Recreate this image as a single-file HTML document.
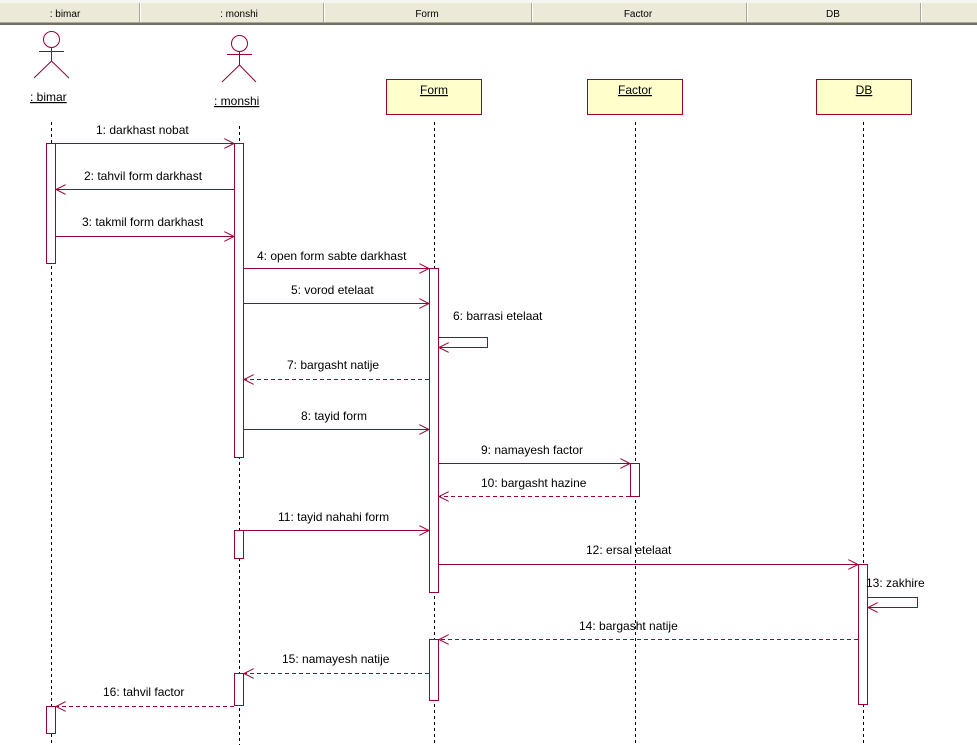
<!DOCTYPE html>
<html><head><meta charset="utf-8"><style>
html,body{margin:0;padding:0;background:#fff;width:977px;height:745px;overflow:hidden}
svg text{font-family:"Liberation Sans","DejaVu Sans",sans-serif;font-size:12px;fill:#000}
</style></head><body>
<svg width="977" height="745" xmlns="http://www.w3.org/2000/svg">
<defs>
<marker id="a" markerWidth="12" markerHeight="10" refX="10" refY="5" orient="auto" markerUnits="userSpaceOnUse">
<path d="M0,0 L10,5 L0,10" fill="none" stroke="#990033" stroke-width="1"/></marker>
</defs>
<rect x="0" y="0" width="977" height="3" fill="#f5f4ee"/>
<rect x="0" y="3" width="977" height="19" fill="#ece9d8"/>
<rect x="0" y="22" width="977" height="1" fill="#aca899"/>
<rect x="0" y="23" width="977" height="2" fill="#716f64"/>
<g fill="#aca899">
<rect x="139" y="3" width="1" height="19"/><rect x="323" y="3" width="1" height="19"/>
<rect x="531" y="3" width="1" height="19"/><rect x="746" y="3" width="1" height="19"/><rect x="920" y="3" width="1" height="19"/>
</g>
<g fill="#fff"><rect x="140" y="3" width="1" height="19"/><rect x="324" y="3" width="1" height="19"/><rect x="532" y="3" width="1" height="19"/><rect x="747" y="3" width="1" height="19"/><rect x="921" y="3" width="1" height="19"/></g>
<g text-anchor="middle">
<text x="65" y="17" style="font-size:10px">: bimar</text>
<text x="239" y="17" style="font-size:10px">: monshi</text>
<text x="427" y="17" style="font-size:10px">Form</text>
<text x="638" y="17" style="font-size:10px">Factor</text>
<text x="833" y="17" style="font-size:10px">DB</text>
</g>
<g stroke="#000" stroke-dasharray="3,3" stroke-width="1">
<line x1="51.5" y1="122" x2="51.5" y2="745"/>
<line x1="239.5" y1="126" x2="239.5" y2="745"/>
<line x1="434.5" y1="122" x2="434.5" y2="745"/>
<line x1="635.5" y1="122" x2="635.5" y2="745"/>
<line x1="863.5" y1="122" x2="863.5" y2="745"/>
</g>
<g stroke="#990033" fill="none" stroke-width="1">
<circle cx="51.5" cy="39.5" r="8"/><line x1="39" y1="51.5" x2="64" y2="51.5"/><line x1="51.5" y1="47" x2="51.5" y2="61"/>
<line x1="51.5" y1="61" x2="34" y2="78"/><line x1="51.5" y1="61" x2="69" y2="78"/>
<circle cx="239.5" cy="43.5" r="8"/><line x1="227" y1="54.5" x2="252" y2="54.5"/><line x1="239.5" y1="51" x2="239.5" y2="65"/>
<line x1="239.5" y1="65" x2="222" y2="82"/><line x1="239.5" y1="65" x2="256" y2="82"/>
</g>
<text x="30" y="101" text-decoration="underline"> : bimar</text>
<text x="214" y="105" text-decoration="underline"> : monshi</text>
<g fill="#ffffcc" stroke="#990033">
<rect x="386.5" y="79.5" width="95" height="35"/>
<rect x="587.5" y="79.5" width="95" height="35"/>
<rect x="816.5" y="79.5" width="95" height="35"/>
</g>
<g text-anchor="middle" text-decoration="underline">
<text x="434" y="94">Form</text><text x="635" y="94">Factor</text><text x="864" y="94">DB</text>
</g>
<g fill="#fff" stroke="#990033">
<rect x="46.5" y="143.5" width="9" height="120"/>
<rect x="46.5" y="706.5" width="9" height="27"/>
<rect x="234.5" y="143.5" width="9" height="314"/>
<rect x="234.5" y="530.5" width="9" height="28"/>
<rect x="234.5" y="673.5" width="9" height="32"/>
<rect x="429.5" y="268.5" width="9" height="324"/>
<rect x="429.5" y="639.5" width="9" height="61"/>
<rect x="630.5" y="463.5" width="9" height="33"/>
<rect x="858.5" y="564.5" width="9" height="140"/>
</g>
<g stroke="#990033" fill="none" stroke-width="1" marker-end="url(#a)">
<line x1="56" y1="143.5" x2="234" y2="143.5"/>
<line x1="234" y1="189.5" x2="56" y2="189.5"/>
<line x1="56" y1="236.5" x2="234" y2="236.5"/>
<line x1="244" y1="268.5" x2="429" y2="268.5"/>
<line x1="244" y1="303.5" x2="429" y2="303.5"/>
<polyline points="439,337.5 487.5,337.5 487.5,347.5 439,347.5"/>
<line x1="429" y1="379.5" x2="244" y2="379.5" stroke-dasharray="4,3"/>
<line x1="244" y1="429.5" x2="429" y2="429.5"/>
<line x1="439" y1="463.5" x2="630" y2="463.5"/>
<line x1="630" y1="496.5" x2="439" y2="496.5" stroke-dasharray="4,3"/>
<line x1="244" y1="530.5" x2="429" y2="530.5"/>
<line x1="439" y1="564.5" x2="858" y2="564.5"/>
<polyline points="868,597.5 917.5,597.5 917.5,607.5 868,607.5"/>
<line x1="858" y1="639.5" x2="439" y2="639.5" stroke-dasharray="4,3"/>
<line x1="429" y1="673.5" x2="244" y2="673.5" stroke-dasharray="4,3"/>
<line x1="234" y1="706.5" x2="56" y2="706.5" stroke-dasharray="4,3"/>
</g>
<text x="96" y="134">1: darkhast nobat</text>
<text x="84" y="180">2: tahvil form darkhast</text>
<text x="82" y="226">3: takmil form darkhast</text>
<text x="257" y="260">4: open form sabte darkhast</text>
<text x="291" y="294">5: vorod etelaat</text>
<text x="453" y="320">6: barrasi etelaat</text>
<text x="287" y="369">7: bargasht natije</text>
<text x="301" y="420">8: tayid form</text>
<text x="481" y="454">9: namayesh factor</text>
<text x="481" y="487">10: bargasht hazine</text>
<text x="278" y="521">11: tayid nahahi form</text>
<text x="586" y="554">12: ersal etelaat</text>
<text x="866" y="587">13: zakhire</text>
<text x="579" y="630">14: bargasht natije</text>
<text x="282" y="663">15: namayesh natije</text>
<text x="103" y="696">16: tahvil factor</text>
</svg>
</body></html>
